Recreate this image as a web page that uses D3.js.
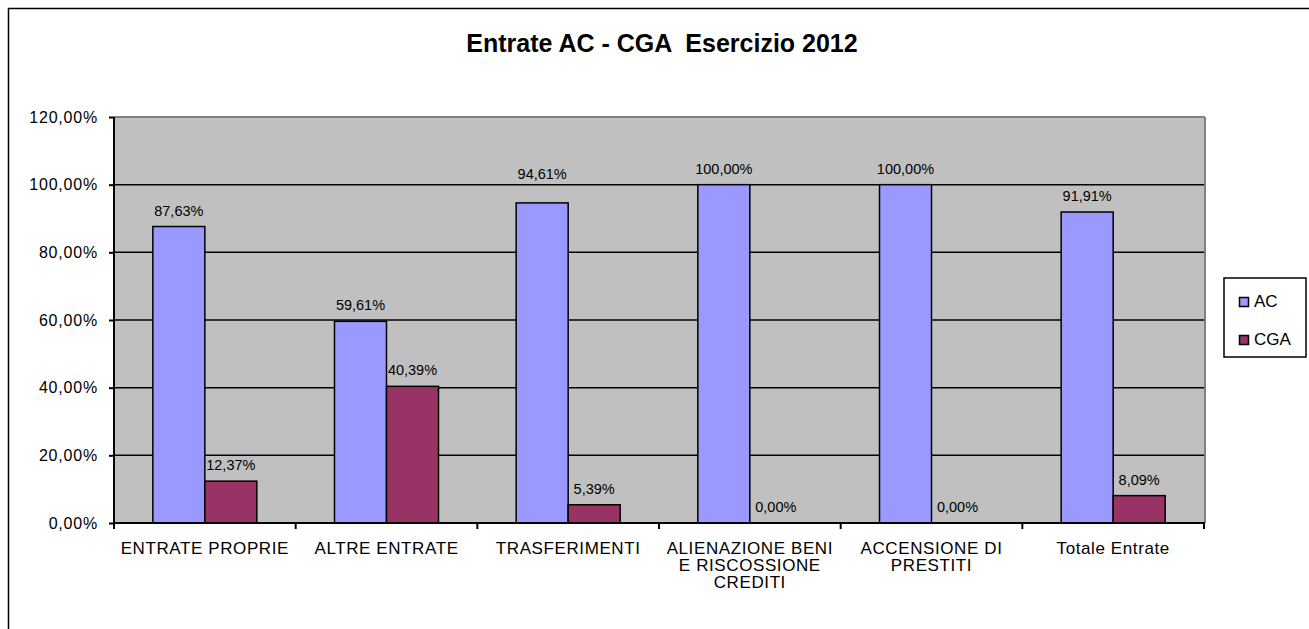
<!DOCTYPE html>
<html><head><meta charset="utf-8">
<script src="https://cdn.jsdelivr.net/npm/d3@7"></script>
<style>
html,body{margin:0;padding:0;background:#fff;}
svg{display:block;font-family:"Liberation Sans",Arial,sans-serif;}
</style></head>
<body><svg id="chart" width="1309" height="629"></svg>
<script>
const categories = ["ENTRATE PROPRIE", "ALTRE ENTRATE", "TRASFERIMENTI", "ALIENAZIONE BENI\nE RISCOSSIONE\nCREDITI", "ACCENSIONE DI\nPRESTITI", "Totale Entrate"];
const series = ["AC", "CGA"];
const acValues = [87.63, 59.61, 94.61, 100.00, 100.00, 91.91];
const cgaValues = [12.37, 40.39, 5.39, 0.00, 0.00, 8.09];
const yTicks = [0, 20, 40, 60, 80, 100, 120];
const colors = {AC: "#9999FF", CGA: "#993366"};
const title = "Entrate AC - CGA  Esercizio 2012";

const svg = d3.select("#chart");
const fmt = v => d3.format(".2f")(v).replace(".", ",") + "%";

// outer frame (clipped at right/bottom like the reference)
svg.append("rect").attr("x", 8.5).attr("y", 8.5).attr("width", 1320).attr("height", 640)
  .attr("fill", "#fff").attr("stroke", "#000").attr("stroke-width", 1.5);

const L = 114, R = 1204, T = 117, B = 523;
const x0 = d3.scaleBand().domain(categories).range([L, R]).padding(0);
const barW = 52;
const po = (x0.bandwidth() / barW - 2) / 2;
const x1 = d3.scaleBand().domain(series).range([0, x0.bandwidth()]).paddingInner(0).paddingOuter(po);
const y = d3.scaleLinear().domain([0, 120]).range([B, T]);

// plot area
svg.append("rect").attr("x", L).attr("y", T).attr("width", R - L).attr("height", B - T).attr("fill", "#C0C0C0");
svg.append("line").attr("x1", L).attr("x2", R + 1).attr("y1", T).attr("y2", T).attr("stroke", "#808080").attr("stroke-width", 2);
svg.append("line").attr("x1", R + 1).attr("x2", R + 1).attr("y1", T).attr("y2", B).attr("stroke", "#808080").attr("stroke-width", 2);

// gridlines
svg.append("g").selectAll("line").data(yTicks.filter(d => d > 0 && d < 120)).join("line")
  .attr("x1", L).attr("x2", R).attr("y1", d => y(d)).attr("y2", d => y(d))
  .attr("stroke", "#000").attr("stroke-width", 1.5);

// y axis
const yAxis = d3.axisLeft(y).tickValues(yTicks).tickFormat(fmt).tickSize(5).tickPadding(11);
const gy = svg.append("g").attr("transform", `translate(${L},0)`).call(yAxis);
gy.select(".domain").attr("stroke", "#000").attr("stroke-width", 2).attr("d", `M0,${T}V${B}`);
gy.selectAll(".tick line").attr("stroke", "#000").attr("stroke-width", 2);
gy.selectAll(".tick text").attr("font-size", 16).attr("letter-spacing", 0.8).attr("fill", "#000")
  .attr("font-family", "Liberation Sans, Arial, sans-serif");

// bars
const data = categories.map((c, i) => ({cat: c, AC: acValues[i], CGA: cgaValues[i]}));
// label nudge (the reference moved the TRASFERIMENTI AC label above its gridline)
const labelLift = (s, i) => (s === "AC" && i === 2) ? 24 : 11;
const groups = svg.append("g").selectAll("g").data(data).join("g")
  .attr("transform", d => `translate(${x0(d.cat)},0)`);
groups.selectAll("rect").data(d => series.map(s => ({s, v: d[s]}))).join("rect")
  .attr("x", d => x1(d.s)).attr("width", x1.bandwidth())
  .attr("y", d => y(d.v)).attr("height", d => B - y(d.v))
  .attr("fill", d => colors[d.s]).attr("stroke", "#000").attr("stroke-width", 1.5);
groups.selectAll("text").data((d, i) => series.map(s => ({s, v: d[s], i}))).join("text")
  .attr("x", d => x1(d.s) + x1.bandwidth() / 2).attr("y", d => y(d.v) - labelLift(d.s, d.i))
  .attr("text-anchor", "middle").attr("font-size", 14.5).attr("fill", "#000")
  .text(d => fmt(d.v));

// x axis
const gx = svg.append("g").attr("transform", `translate(0,${B})`);
gx.append("line").attr("x1", L).attr("x2", R + 1).attr("y1", 0).attr("y2", 0).attr("stroke", "#000").attr("stroke-width", 2);
gx.selectAll("line.tk").data(d3.range(categories.length + 1)).join("line").attr("class", "tk")
  .attr("x1", i => L + i * x0.step()).attr("x2", i => L + i * x0.step())
  .attr("y1", 0).attr("y2", 6).attr("stroke", "#000").attr("stroke-width", 2);
const xl = gx.selectAll("text").data(categories).join("text")
  .attr("text-anchor", "middle").attr("font-size", 17).attr("letter-spacing", 0.6).attr("fill", "#000")
  .attr("transform", d => `translate(${x0(d) + x0.bandwidth() / 2},31)`);
xl.selectAll("tspan").data(d => d.split("\n")).join("tspan")
  .attr("x", 0).attr("dy", (d, i) => i === 0 ? 0 : 17).text(d => d);

// title
svg.append("text").attr("x", 662).attr("y", 52).attr("text-anchor", "middle")
  .attr("font-size", 25).attr("font-weight", "bold").style("white-space", "pre").text(title);

// legend
const lg = svg.append("g");
lg.append("rect").attr("x", 1224).attr("y", 278).attr("width", 82).attr("height", 79)
  .attr("fill", "#fff").attr("stroke", "#000").attr("stroke-width", 1.5);
series.forEach((s, i) => {
  lg.append("rect").attr("x", 1239.5).attr("y", 297.5 + i * 38).attr("width", 9).attr("height", 9)
    .attr("fill", colors[s]).attr("stroke", "#000").attr("stroke-width", 1.5);
  lg.append("text").attr("x", 1254).attr("y", 307 + i * 38).attr("font-size", 17).attr("fill", "#000").text(s);
});
</script></body></html>
